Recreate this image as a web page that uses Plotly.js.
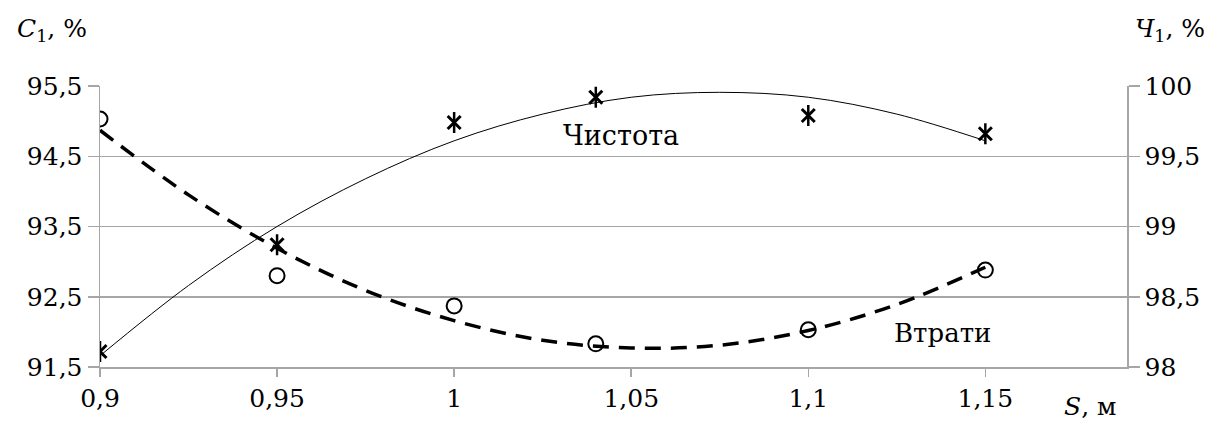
<!DOCTYPE html>
<html><head><meta charset="utf-8">
<script src="https://cdn.plot.ly/plotly-3.0.1.min.js"></script>
<style>html,body{margin:0;padding:0;background:#fff}#c{width:1227px;height:421px}</style>
</head><body><div id="c"></div>
<script>
// measured points
const S = [0.9, 0.95, 1.0, 1.04, 1.1, 1.15];
const lossC1 = [95.03, 92.80, 92.37, 91.83, 92.03, 92.88];      // Втрати, left axis
const purityCh1 = [98.11, 98.87, 99.74, 99.92, 99.79, 99.66];   // Чистота, right axis
// trend curves
const trendS = [0.9, 0.925, 0.95, 0.975, 1.0, 1.025, 1.05, 1.075, 1.1, 1.125, 1.15];
const lossTrend = [94.87, 93.95, 93.19, 92.59, 92.16, 91.88, 91.77, 91.81, 92.02, 92.39, 92.92];
const purityTrend = [98.08, 98.58, 99.00, 99.34, 99.61, 99.80, 99.92, 99.955, 99.92, 99.80, 99.61];
// tick labels
const xTickVals = [0.9, 0.95, 1.0, 1.05, 1.1, 1.15];
const xTickText = ['0,9', '0,95', '1', '1,05', '1,1', '1,15'];
const yTickVals = [91.5, 92.5, 93.5, 94.5, 95.5];
const yTickText = ['91,5', '92,5', '93,5', '94,5', '95,5'];
const y2TickVals = [98, 98.5, 99, 99.5, 100];
const y2TickText = ['98', '98,5', '99', '99,5', '100'];

const FONT = '"DejaVu Serif", serif';
const GRID = '#a6a6a6';

const traces = [
  {x: trendS, y: lossTrend, yaxis: 'y', mode: 'lines', line: {shape: 'spline', color: '#000', width: 3.5, dash: '16px,10px'}, hoverinfo: 'skip'},
  {x: trendS, y: purityTrend, yaxis: 'y2', mode: 'lines', line: {shape: 'spline', color: '#000', width: 1}, hoverinfo: 'skip'},
  {x: S, y: lossC1, yaxis: 'y', mode: 'markers', marker: {symbol: 'circle-open', size: 15, color: '#000', line: {width: 2, color: '#000'}}},
  {x: S, y: purityCh1, yaxis: 'y2', mode: 'markers', marker: {symbol: 'x-thin-open', size: 13, color: '#000', line: {width: 3, color: '#000'}}},
  {x: S, y: purityCh1, yaxis: 'y2', mode: 'markers', marker: {symbol: 'line-ns-open', size: 15, color: '#000', line: {width: 2.5, color: '#000'}}}
];

const layout = {
  width: 1227, height: 421,
  margin: {l: 100, r: 100, t: 86, b: 54},
  paper_bgcolor: '#fff', plot_bgcolor: '#fff',
  showlegend: false,
  font: {family: FONT, size: 25, color: '#000'},
  xaxis: {
    range: [0.9, 1.19], tickvals: xTickVals, ticktext: xTickText,
    showgrid: false, zeroline: false,
    showline: true, linecolor: GRID, linewidth: 1.5,
    ticks: 'outside', ticklen: 8, tickcolor: GRID, tickwidth: 1.5,
    tickfont: {family: FONT, size: 25}
  },
  yaxis: {
    range: [91.5, 95.5], tickvals: yTickVals, ticktext: yTickText,
    showgrid: true, gridcolor: GRID, gridwidth: 1.5, zeroline: false,
    showline: true, linecolor: GRID, linewidth: 1.5,
    ticks: 'outside', ticklen: 11, tickcolor: GRID, tickwidth: 1.5,
    tickfont: {family: FONT, size: 25}
  },
  yaxis2: {
    range: [98, 100], tickvals: y2TickVals, ticktext: y2TickText,
    overlaying: 'y', side: 'right',
    showgrid: false, zeroline: false,
    showline: true, linecolor: GRID, linewidth: 1.5,
    ticks: 'outside', ticklen: 11, tickcolor: GRID, tickwidth: 1.5,
    tickfont: {family: FONT, size: 25}
  },
  annotations: [
    {xref: 'paper', yref: 'paper', x: -0.083, y: 1.2, xanchor: 'left', yanchor: 'middle', showarrow: false,
     text: '<i>C</i><sub>1</sub>, %', font: {family: FONT, size: 25}},
    {xref: 'paper', yref: 'paper', x: 1.078, y: 1.2, xanchor: 'right', yanchor: 'middle', showarrow: false,
     text: '<i>Ч</i><sub>1</sub>, %', font: {family: FONT, size: 25}},
    {xref: 'paper', yref: 'paper', x: 0.964, y: -0.14, xanchor: 'center', yanchor: 'middle', showarrow: false,
     text: '<i>S</i>, м', font: {family: FONT, size: 25}},
    {xref: 'x', yref: 'y2', x: 1.047, y: 99.65, xanchor: 'center', yanchor: 'middle', showarrow: false,
     text: 'Чистота', font: {family: FONT, size: 27}},
    {xref: 'x', yref: 'y', x: 1.138, y: 91.98, xanchor: 'center', yanchor: 'middle', showarrow: false,
     text: 'Втрати', font: {family: FONT, size: 26}}
  ]
};
Plotly.newPlot('c', traces, layout, {displayModeBar: false, staticPlot: true});
</script></body></html>
